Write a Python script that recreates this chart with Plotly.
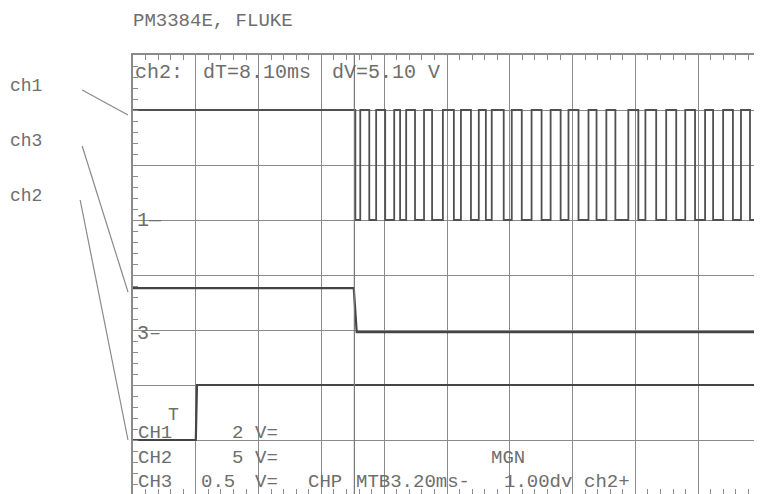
import plotly.graph_objects as go

TIME_PER_DIV_MS = 3.2
# channel scale (V/div) and ground position (div from bottom)
ch1_vdiv, ch1_gnd = 2.0, 5.0
ch2_vdiv, ch2_gnd = 5.0, 1.0
ch3_vdiv, ch3_gnd = 0.5, 3.0

# ch1: steady high, then a fast square wave (edge times in ms)
ch1_high_v = 4.0
ch1_low_v = 0.0
ch1_edges_ms = [11.33, 11.58, 12.04, 12.39, 12.85, 13.31, 13.61, 13.92, 14.37, 14.83,
                15.24, 15.79, 16.35, 16.71, 17.22, 17.62, 17.98, 18.28, 18.89, 19.30,
                19.81, 20.31, 20.82, 21.28, 21.79, 22.19, 22.70, 23.21, 23.62, 24.12,
                24.58, 25.24, 25.75, 26.11, 26.66, 27.17, 27.68, 28.14, 28.64, 29.15,
                29.56, 30.07, 30.57, 30.98, 31.44, 31.84]

# ch2: step up at the trigger
ch2_t_ms = [0.0, 3.20, 3.26, 32.0]
ch2_v = [0.0, 0.0, 5.0, 5.0]

# ch3: step down at the cursor
ch3_t_ms = [0.0, 11.25, 11.40, 32.0]
ch3_v = [0.38, 0.38, -0.02, -0.02]

cursor_t_ms = 11.28

header_text = "PM3384E, FLUKE"
channel_names = ["ch1", "ch3", "ch2"]

# ---------------- figure geometry ----------------
OFF = 8                      # page body margin
W, H = 762 - OFF, 494 - OFF
PL, PT = 133 - OFF, 55 - OFF
PW, PH = 629, 439
XMAX = TIME_PER_DIV_MS * 10 * PW / 630
YMIN = 1 / 55


def xp(px):
    return (px - OFF - PL) / PW


def yp(py):
    return (PT + PH - (py - OFF)) / PH


def to_div(v, vdiv, gnd):
    return [gnd + a / vdiv for a in v]


# build ch1 stepped waveform from its edges
ch1_t = [0.0]
ch1_y = [ch1_high_v]
level = ch1_high_v
for e in ch1_edges_ms:
    ch1_t += [e, e]
    nxt = ch1_low_v if level == ch1_high_v else ch1_high_v
    ch1_y += [level, nxt]
    level = nxt
ch1_t.append(32.0)
ch1_y.append(level)

TRACE = "#454545"
GRID = "#8a8a8a"
TXT = "#6e6e6e"
FONT = "Liberation Mono"

fig = go.Figure()
fig.add_trace(go.Scatter(x=ch1_t, y=to_div(ch1_y, ch1_vdiv, ch1_gnd), mode="lines",
                         line=dict(color="#505050", width=1.8), hoverinfo="skip"))
fig.add_trace(go.Scatter(x=ch3_t_ms, y=to_div(ch3_v, ch3_vdiv, ch3_gnd), mode="lines",
                         line=dict(color=TRACE, width=2.2), hoverinfo="skip"))
fig.add_trace(go.Scatter(x=ch2_t_ms, y=to_div(ch2_v, ch2_vdiv, ch2_gnd), mode="lines",
                         line=dict(color=TRACE, width=2.2), hoverinfo="skip"))

# cursor line
fig.add_vline(x=cursor_t_ms, line=dict(color="#777777", width=1.2))

axis_common = dict(showticklabels=False, zeroline=False, showline=True,
                   linecolor=GRID, linewidth=1.5, mirror="allticks",
                   ticks="inside", ticklen=5, tickcolor=GRID, tickwidth=1,
                   showgrid=True, gridcolor=GRID, gridwidth=1)
fig.update_xaxes(range=[0, XMAX], tick0=0, dtick=TIME_PER_DIV_MS,
                 minor=dict(dtick=TIME_PER_DIV_MS / 5, ticks="inside", ticklen=5,
                            tickcolor=GRID, showgrid=False),
                 **axis_common)
fig.update_yaxes(range=[YMIN, 8], tick0=0, dtick=1,
                 minor=dict(dtick=0.2, ticks="inside", ticklen=5,
                            tickcolor=GRID, showgrid=False),
                 **axis_common)

ann = []


def txt(s, px, py, size=20, color=TXT):
    ann.append(dict(text=s, x=xp(px), y=yp(py), xref="paper", yref="paper",
                    xanchor="left", yanchor="middle", showarrow=False,
                    font=dict(family=FONT, size=size, color=color)))


txt(header_text, 131, 21, size=19)
for name, py in zip(channel_names, [86, 141, 196]):
    txt(name, 8, py, size=18)

txt("ch2:", 133, 73)
txt("dT=8.10ms", 201, 73)
txt("dV=5.10 V", 331, 73)
txt("1\u2014", 135, 221)
txt("3\u2013", 135, 333)
txt("CH1", 136, 433, size=19)
txt("T", 166, 415, size=18)
txt("2", 230, 433, size=19)
txt("V=", 253, 433, size=19)
txt("CH2", 136, 458, size=19)
txt("5", 230, 458, size=19)
txt("V=", 253, 458, size=19)
txt("MGN", 490, 458, size=19)
txt("CH3", 136, 482, size=19)
txt("0.5", 199, 482, size=19)
txt("V=", 253, 482, size=19)
txt("CHP", 307, 482, size=19)
txt("MTB3.20ms-", 355, 482, size=19)
txt("1.00dv", 503, 482, size=19)
txt("ch2+", 583, 482, size=19)

shapes = []
for (x0, y0, x1, y1) in [(82, 90, 128, 115), (82, 146, 128, 292), (80, 200, 128, 440)]:
    shapes.append(dict(type="line", xref="paper", yref="paper",
                       x0=xp(x0), y0=yp(y0), x1=xp(x1), y1=yp(y1),
                       line=dict(color="#8a8a8a", width=1.2)))

fig.update_layout(width=W, height=H, margin=dict(l=PL, r=W - PL - PW, t=PT, b=H - PT - PH),
                  plot_bgcolor="white", paper_bgcolor="white", showlegend=False,
                  annotations=ann, shapes=fig.layout.shapes + tuple(shapes))

fig.write_html("out.html")
